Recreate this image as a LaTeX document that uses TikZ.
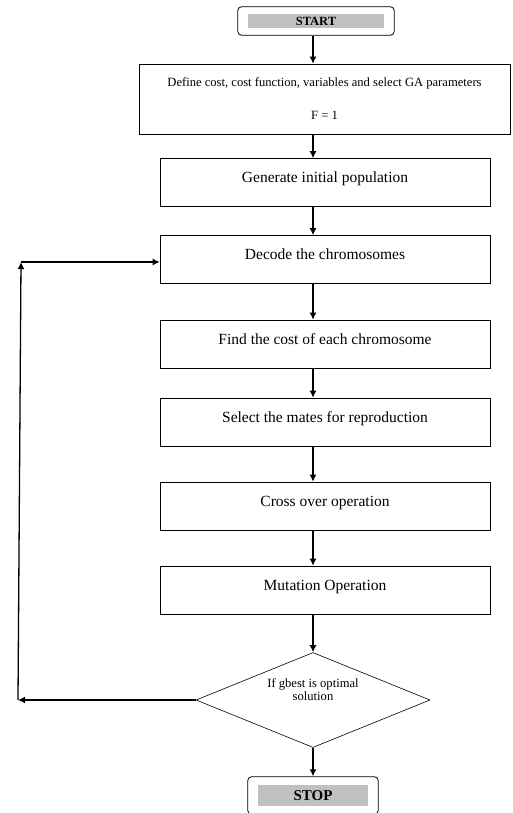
\documentclass[tikz,border=0pt]{standalone}
\usepackage{fontspec}
\setmainfont{Liberation Serif}
\usetikzlibrary{fit, arrows, arrows.meta, shapes.geometric}
\definecolor{bargray}{RGB}{192,192,192}
\begin{document}
\begin{tikzpicture}[> = {Latex[length = 7pt, width = 7pt]}, % arrow head style
                x = 1pt, y = -1pt, % picture measured in points, y going down
                semithick % line style
            ]

            \tikzstyle{process}=[draw = black, rectangle, minimum width = 330pt,
            minimum height = 48pt, inner sep = 2pt, text height = 11pt,
            text depth = 11pt, font = \fontsize{15.5}{18}\selectfont]
            \tikzstyle{bar}=[fill = bargray, inner sep = 0pt, font = \bfseries]
            \tikzstyle{terminal}=[draw = black, rounded corners = 4pt, thick]
            \tikzstyle{flow}=[->, line width = 1.3pt]

            \useasboundingbox (0,0) rectangle (513,813);
            \coordinate (spine) at (313,0);

            % terminals
            \node[bar, minimum width = 136pt, minimum height = 14pt,
                font = \fontsize{12.5}{14}\selectfont\bfseries] (startbar) at (316,21) {START};
            \node[terminal, fit = (startbar), inner xsep = 10pt, inner ysep = 7pt] (start) {};
            \node[bar, minimum width = 110pt, minimum height = 21pt,
                font = \fontsize{15}{17}\selectfont\bfseries] (stopbar) at (313,795.5) {STOP};
            \node[terminal, fit = (stopbar), inner xsep = 10pt, inner ysep = 8pt] (stop) {};

            % steps
            \node[draw = black, rectangle, minimum width = 371pt, minimum height = 70pt,
                align = center, font = \fontsize{12.6}{14}\selectfont] (define) at (324.5,99)
                {Define cost, cost function, variables and select GA parameters\\[19pt]F = 1};
            \node[process] (generate) at (325,182.5) {Generate initial population};
            \node[process] (decode) at (325,259.5) {Decode the chromosomes};
            \node[process] (cost) at (325,344) {Find the cost of each chromosome};
            \node[process] (mates) at (325,422) {Select the mates for reproduction};
            \node[process] (crossover) at (325,506) {Cross over operation};
            \node[process] (mutation) at (325,590) {Mutation Operation};
            \node[draw = black, diamond, aspect = 2.46, minimum width = 234pt,
                minimum height = 95pt, inner sep = 0pt, align = center,
                font = \fontsize{12.6}{14}\selectfont] (check) at (313,700)
                {If gbest is optimal\\[-1pt]solution\\[6pt]};

            % main flow
            \draw[flow] (start.south -| spine) -- (define.north -| spine);
            \draw[flow] (define.south -| spine) -- (generate.north -| spine);
            \draw[flow] (generate.south -| spine) -- (decode.north -| spine);
            \draw[flow] (decode.south -| spine) -- (cost.north -| spine);
            \draw[flow] (cost.south -| spine) -- (mates.north -| spine);
            \draw[flow] (mates.south -| spine) -- (crossover.north -| spine);
            \draw[flow] (crossover.south -| spine) -- (mutation.north -| spine);
            \draw[flow] (mutation.south -| spine) -- (check.north);
            \draw[flow] (check.south) -- (stop.north);

            % loop back
            \coordinate (loopbottom) at (18,700);
            \coordinate (looptop) at (21,262);
            \draw[flow] (check.west) -- (loopbottom);
            \draw[flow] (loopbottom) -- (looptop);
            \draw[flow] (looptop) -- (looptop -| decode.west);
\end{tikzpicture}
\end{document}
